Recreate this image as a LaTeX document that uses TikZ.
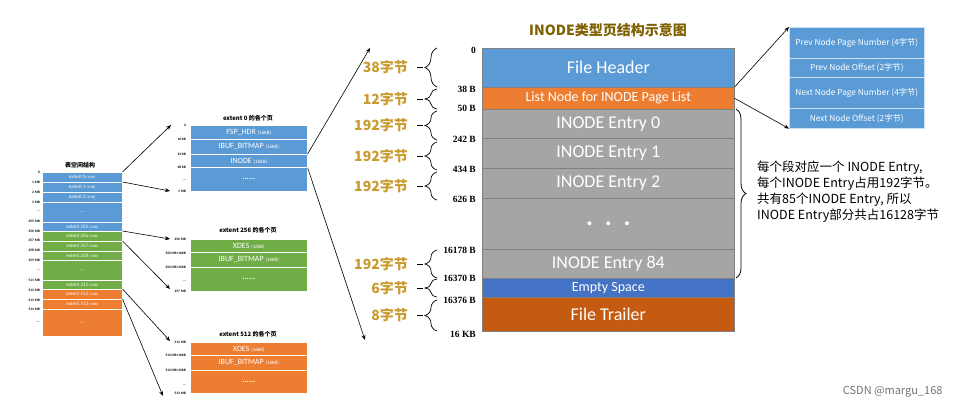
\documentclass[tikz,border=0pt]{standalone}
\usepackage{fontspec}
\setmainfont{Carlito}
\newfontfamily\cjk{Noto Sans CJK SC}
\newfontfamily\tnr{Liberation Serif}
\usetikzlibrary{decorations.pathreplacing,arrows.meta}

\definecolor{blauA}{HTML}{5B9BD5}
\definecolor{gruenA}{HTML}{70AD47}
\definecolor{orangeA}{HTML}{ED7D31}
\definecolor{grauA}{HTML}{A5A5A5}
\definecolor{blauB}{HTML}{4472C4}
\definecolor{braunA}{HTML}{C55A11}
\definecolor{goldA}{HTML}{C99A2E}
\definecolor{titelA}{HTML}{7F6000}

\tikzset{
	tsrow/.style={anchor=north west, minimum width=80, inner sep=0pt, draw=white,
		line width=0.5pt, text=white, font=\fontsize{5}{6}\selectfont},
	exrow/.style={anchor=north west, minimum width=117, inner sep=0pt, draw=white,
		line width=0.6pt, text=white, font=\fontsize{8}{9}\selectfont},
	pgrow/.style={anchor=north west, minimum width=252, inner sep=0pt,
		draw=black!50, line width=0.6pt, text=white},
	lnrow/.style={anchor=north west, minimum width=135, inner sep=0pt, draw=white!70!blauA,
		line width=0.6pt, text=white, font=\cjk\fontsize{8.3}{9}\selectfont},
	kleinlbl/.style={anchor=east, inner sep=0pt, font=\bfseries\fontsize{3.5}{4}\selectfont},
	offlbl/.style={anchor=east, inner sep=0pt, font=\tnr\bfseries\fontsize{9.5}{10}\selectfont},
	goldlbl/.style={anchor=east, inner sep=0pt, text=goldA, font=\cjk\bfseries\fontsize{14}{15}\selectfont},
	klammer/.style={decorate, decoration={brace, amplitude=12pt}, line width=0.7pt},
	pfeil/.style={-{Stealth[length=5pt, width=4pt]}, line width=0.6pt},
}

\begin{document}
\begin{tikzpicture}[x=1pt, y=-1pt]
	\useasboundingbox (0,0) rectangle (957,409);

	% Tabellenraum links
	\node[font=\cjk\bfseries\fontsize{6}{7}\selectfont] (tstitel) at (80,165) {表空间结构};
	\foreach \n/\y/\h/\c/\t in {ts0/172/10/blauA/extent 0, ts1/182/10/blauA/extent 1,
		ts2/192/10/blauA/extent 2, ts255/222/9/blauA/extent 255,
		ts256/231/10/gruenA/extent 256, ts257/241/10/gruenA/extent 257,
		ts258/251/9/gruenA/extent 258, ts511/280/9/gruenA/extent 511,
		ts512/289/10/orangeA/extent 512, ts513/299/10/orangeA/extent 513}
		\node[tsrow, fill=\c, minimum height=\h] (\n) at (42,\y) {\t\ {\fontsize{3.5}{4}\selectfont(1MB)}};
	\foreach \n/\y/\h/\c in {tsd1/202/20/blauA, tsd2/260/20/gruenA, tsd3/309/27/orangeA}
		\node[tsrow, fill=\c, minimum height=\h] (\n) at (42,\y) {...};
	% Grenzen links
	\foreach \y/\t in {172/0, 182/1 MB, 192/2 MB, 202/3 MB, 211/{...}, 221/255 MB, 231/256 MB,
		240/257 MB, 250/258 MB, 260/259 MB, 270/{...}, 280/511 MB, 290/512 MB, 300/513 MB,
		309/514 MB, 322/{....}}
		\node[kleinlbl] (tsl\y) at (40,\y) {\t};

	% extent 0
	\node[font=\cjk\bfseries\fontsize{6}{7}\selectfont] (e0titel) at (248,118) {extent 0 的各个页};
	\node[exrow, fill=blauA, minimum height=14] (e0r1) at (190,125) {FSP\_HDR\ {\fontsize{5}{6}\selectfont(16KB)}};
	\node[exrow, fill=blauA, minimum height=15] (e0r2) at (190,139) {IBUF\_BITMAP\ {\fontsize{5}{6}\selectfont(16KB)}};
	\node[exrow, fill=blauA, minimum height=13] (e0r3) at (190,154) {INODE\ {\fontsize{5}{6}\selectfont(16KB)}};
	\node[exrow, fill=blauA, minimum height=24] (e0r4) at (190,167) {\textbf{......}};
	\foreach \y/\t in {125/0, 139/16 KB, 154/32 KB, 167/48 KB, 180/{...}, 191/1 MB}
		\node[kleinlbl] (e0l\y) at (186,\y) {\t};

	% extent 256
	\node[font=\cjk\bfseries\fontsize{6}{7}\selectfont] (e256titel) at (248,230) {extent 256 的各个页};
	\node[exrow, fill=gruenA, minimum height=13] (e256r1) at (190,239) {XDES\ {\fontsize{5}{6}\selectfont(16KB)}};
	\node[exrow, fill=gruenA, minimum height=15] (e256r2) at (190,252) {IBUF\_BITMAP\ {\fontsize{5}{6}\selectfont(16KB)}};
	\node[exrow, fill=gruenA, minimum height=24] (e256r3) at (190,267) {\textbf{......}};
	\foreach \y/\t in {239/256 MB, 253/256 MB+16KB, 267/256 MB+32KB, 281/{...}, 291/257 MB}
		\node[kleinlbl] (e256l\y) at (186,\y) {\t};

	% extent 512
	\node[font=\cjk\bfseries\fontsize{6}{7}\selectfont] (e512titel) at (248,334) {extent 512 的各个页};
	\node[exrow, fill=orangeA, minimum height=13] (e512r1) at (190,342) {XDES\ {\fontsize{5}{6}\selectfont(16KB)}};
	\node[exrow, fill=orangeA, minimum height=15] (e512r2) at (190,355) {IBUF\_BITMAP\ {\fontsize{5}{6}\selectfont(16KB)}};
	\node[exrow, fill=orangeA, minimum height=23] (e512r3) at (190,370) {\textbf{......}};
	\foreach \y/\t in {342/512 MB, 355/512 MB+16KB, 370/512 MB+32KB, 385/{...}, 393/513 MB}
		\node[kleinlbl] (e512l\y) at (186,\y) {\t};

	% Pfeile zu den extents
	\coordinate (z0) at (171,125);
	\coordinate (z1) at (170,191);
	\coordinate (z256) at (170,239);
	\coordinate (z257) at (170,289);
	\coordinate (z512) at (170,341);
	\coordinate (z513) at (163,396);
	\draw[pfeil] (ts0.north east) -- (z0);
	\draw[pfeil] (ts1.north east) -- (z1);
	\draw[pfeil] (ts256.north east) -- (z256);
	\draw[pfeil] (ts257.north east) -- (z257);
	\draw[pfeil] (ts512.north east) -- (z512);
	\draw[pfeil] (ts513.north east) -- (z513);

	% INODE Seite
	\node[text=titelA, font=\cjk\bfseries\fontsize{14}{15}\selectfont] (pgtitel) at (608,30) {INODE类型页结构示意图};
	\node[pgrow, fill=blauA, minimum height=39, font=\fontsize{18}{20}\selectfont] (fh) at (482,48) {File Header};
	\node[pgrow, fill=orangeA, minimum height=22, font=\fontsize{14}{16}\selectfont] (ln) at (482,87) {List Node for INODE Page List};
	\node[pgrow, fill=grauA, minimum height=29, font=\fontsize{18}{20}\selectfont] (en0) at (482,109) {INODE Entry 0};
	\node[pgrow, fill=grauA, minimum height=30, font=\fontsize{18}{20}\selectfont] (en1) at (482,138) {INODE Entry 1};
	\node[pgrow, fill=grauA, minimum height=30, font=\fontsize{18}{20}\selectfont] (en2) at (482,168) {INODE Entry 2};
	\node[pgrow, fill=grauA, minimum height=51, font=\bfseries\fontsize{26}{26}\selectfont] (endots) at (482,198) {.\ \ .\ \ .};
	\node[pgrow, fill=grauA, minimum height=29, font=\fontsize{18}{20}\selectfont] (en84) at (482,249) {INODE Entry 84};
	\node[pgrow, fill=blauB, minimum height=19, font=\fontsize{14}{16}\selectfont] (es) at (482,278) {Empty Space};
	\node[pgrow, fill=braunA, minimum height=34, font=\fontsize{18}{20}\selectfont] (ft) at (482,297) {File Trailer};

	% Offsets
	\foreach \y/\t in {50/0, 89/38 B, 108/50 B, 139/242 B, 169/434 B, 199/626 B,
		250/16178 B, 278/16370 B, 300/16376 B, 334/16 KB}
		\node[offlbl] (off\y) at (476,\y) {\t};

	% Klammern mit Groessen
	\foreach \n/\a/\b/\t in {k1/48/87/38字节, k2/89/109/12字节, k3/111/140/192字节,
		k4/142/170/192字节, k5/172/200/192字节, k6/250/278/192字节,
		k7/279/297/6字节, k8/300/331/8字节}
	{
		\draw[klammer] (437,\b) -- (437,\a);
		\node[goldlbl] (\n) at (408,{(\a+\b)/2}) {\t};
		\draw[line width=0.7pt] ([xshift=9pt]\n.east) -- ++(6,0);
	}

	% Pfeile zur INODE Seite
	\coordinate (zp1) at (370,48);
	\coordinate (zp2) at (365,340);
	\draw[pfeil] (e0r3.north east) -- (zp1);
	\draw[pfeil] (e0r3.south east) -- (zp2);

	% List Node Details
	\node[lnrow, fill=blauA, minimum height=31] (p1) at (789,27) {Prev Node Page Number (4字节)};
	\node[lnrow, fill=blauA, minimum height=19] (p2) at (789,58) {Prev Node Offset (2字节)};
	\node[lnrow, fill=blauA, minimum height=31] (p3) at (789,77) {Next Node Page Number (4字节)};
	\node[lnrow, fill=blauA, minimum height=20] (p4) at (789,108) {Next Node Offset (2字节)};
	\draw[pfeil] (ln.north east) -- (p1.north west);
	\draw[pfeil] (ln.east) -- (p4.south west);

	% Klammer rechts
	\draw[decorate, decoration={brace, amplitude=10pt}, line width=0.8pt] (736,109) -- (736,278);
	\node[anchor=west, align=left, inner sep=0pt, font=\cjk\fontsize{12.5}{16}\selectfont] (hinweis) at (757,192)
		{每个段对应一个 INODE Entry,\\每个INODE Entry占用192字节。\\共有85个INODE Entry, 所以\\INODE Entry部分共占16128字节};

	\node[anchor=east, text=black!55, font=\cjk\fontsize{11}{12}\selectfont] (wm) at (946,392) {CSDN @margu\_168};
\end{tikzpicture}
\end{document}
